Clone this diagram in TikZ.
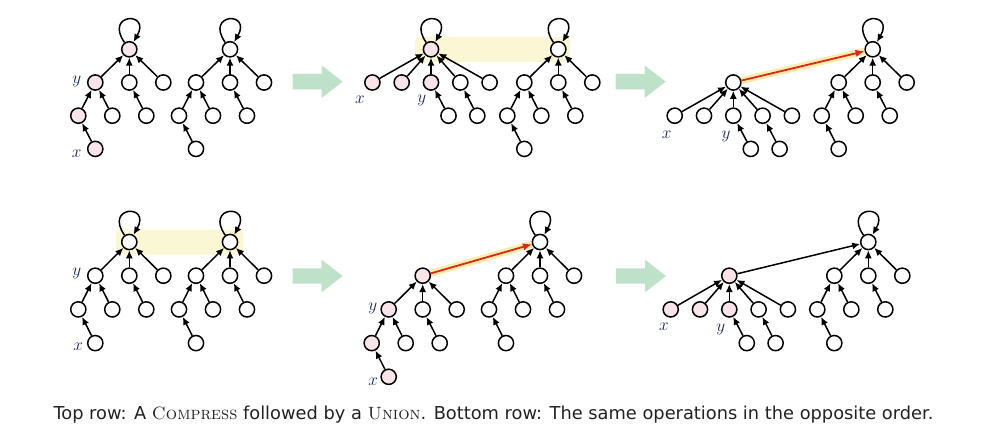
\documentclass[tikz,border=0pt]{standalone}
\usepackage{fontspec}
\newfontfamily\capfont{DejaVu Sans}
\usetikzlibrary{arrows.meta,backgrounds}
\definecolor{pinkfill}{RGB}{249,228,233}
\definecolor{hlyellow}{RGB}{251,246,212}
\definecolor{glowyellow}{RGB}{250,237,168}
\definecolor{redarr}{RGB}{218,40,32}
\definecolor{greenarr}{RGB}{190,226,201}
\definecolor{lblblue}{RGB}{22,40,95}
\definecolor{captext}{RGB}{34,34,34}
\tikzset{
  vtx/.style={circle,draw=black,line width=1.5pt,minimum size=15.2pt,inner sep=0pt,fill=white},
  pk/.style={vtx,fill=pinkfill},
  arr/.style={-{Latex[length=8pt,width=7pt]},line width=1.5pt},
  redarrow/.style={-{Latex[length=9pt,width=7.5pt]},line width=1.8pt,draw=redarr},
  glow/.style={line width=7pt,draw=glowyellow},
  lbl/.style={text=lblblue,font=\fontsize{18}{18}\selectfont,anchor=base,inner sep=0pt},
  hlbox/.style={fill=hlyellow,rounded corners=3pt},
  bigarrow/.style={fill=greenarr}
}
\newcommand\myloop[1]{\draw[arr] (#1) to[out=125,in=60,min distance=36pt] (#1);}
% uncompressed tree: prefix, root x, root y, root style, c1 style, g1/h style
\newcommand\ufTree[6]{%
  \node[#4] (#1r) at (#2,#3) {};
  \node[#5] (#1c1) at ({#2-34},{#3+\dy}) {};
  \node[vtx] (#1c2) at (#2,{#3+\dy}) {};
  \node[vtx] (#1c3) at ({#2+34},{#3+\dy}) {};
  \node[#6] (#1g1) at ({#2-51},{#3+2*\dy}) {};
  \node[vtx] (#1g2) at ({#2-17},{#3+2*\dy}) {};
  \node[vtx] (#1g3) at ({#2+17},{#3+2*\dy}) {};
  \node[#6] (#1h) at ({#2-34},{#3+3*\dy}) {};
  \draw[arr] (#1c1) -- (#1r);
  \draw[arr] (#1c2) -- (#1r);
  \draw[arr] (#1c3) -- (#1r);
  \draw[arr] (#1g1) -- (#1c1);
  \draw[arr] (#1g2) -- (#1c1);
  \draw[arr] (#1g3) -- (#1c2);
  \draw[arr] (#1h) -- (#1g1);
}
% compressed tree: prefix, root x, root y, style of root and first three children
\newcommand\cTree[4]{%
  \node[#4] (#1r) at (#2,#3) {};
  \node[#4] (#1c1) at ({#2-58.6},{#3+\dy}) {};
  \node[#4] (#1c2) at ({#2-29.3},{#3+\dy}) {};
  \node[#4] (#1c3) at (#2,{#3+\dy}) {};
  \node[vtx] (#1c4) at ({#2+29.3},{#3+\dy}) {};
  \node[vtx] (#1c5) at ({#2+58.6},{#3+\dy}) {};
  \node[vtx] (#1g1) at ({#2+17.5},{#3+2*\dy}) {};
  \node[vtx] (#1g2) at ({#2+46.3},{#3+2*\dy}) {};
  \draw[arr] (#1c1) -- (#1r);
  \draw[arr] (#1c2) -- (#1r);
  \draw[arr] (#1c3) -- (#1r);
  \draw[arr] (#1c4) -- (#1r);
  \draw[arr] (#1c5) -- (#1r);
  \draw[arr] (#1g1) -- (#1c3);
  \draw[arr] (#1g2) -- (#1c4);
}
\newcommand\greenarrow[2]{%
  \fill[bigarrow] (#1,{#2-7.7}) -- ({#1+29},{#2-7.7}) -- ({#1+29},{#2-16.2}) -- ({#1+50},#2)
    -- ({#1+29},{#2+16.2}) -- ({#1+29},{#2+7.7}) -- (#1,{#2+7.7}) -- cycle;
}
\begin{document}
\begin{tikzpicture}[x=1pt,y=-1pt]
\useasboundingbox (0,0) rectangle (983,428);
% ---------- top row ----------
\def\dy{33.2}
\ufTree{pa}{129.3}{49.3}{pk}{pk}{pk}
\ufTree{pb}{230}{49.3}{vtx}{vtx}{vtx}
\myloop{par}\myloop{pbr}
\node[lbl] (pay) at (76.7,83.5) {$y$};
\node[lbl] (pax) at (76.7,157.3) {$x$};
\greenarrow{292.7}{81.7}
\cTree{qa}{431}{49.3}{pk}
\ufTree{qb}{558.3}{49.3}{vtx}{vtx}{vtx}
\myloop{qar}\myloop{qbr}
\node[lbl] (qax) at (360,103.3) {$x$};
\node[lbl] (qay) at (421.7,102.8) {$y$};
\greenarrow{615.7}{81.7}
\cTree{sa}{733.3}{82.5}{vtx}
\ufTree{sb}{872.7}{49.3}{vtx}{vtx}{vtx}
\myloop{sbr}
\node[lbl] (sax) at (666.7,138.3) {$x$};
\node[lbl] (say) at (726,138) {$y$};
\draw[redarrow] (sar) -- (sbr);
% ---------- bottom row ----------
\def\dy{33.7}
\ufTree{ta}{129.3}{242}{vtx}{vtx}{vtx}
\ufTree{tb}{230}{242}{vtx}{vtx}{vtx}
\myloop{tar}\myloop{tbr}
\node[lbl] (tay) at (76.7,275.8) {$y$};
\node[lbl] (tax) at (78.3,350.7) {$x$};
\greenarrow{292.7}{276}
\ufTree{ua}{422.7}{275.7}{pk}{pk}{pk}
\ufTree{ub}{540}{242}{vtx}{vtx}{vtx}
\myloop{ubr}
\node[lbl] (uay) at (372.7,310.7) {$y$};
\node[lbl] (uax) at (373.3,385.7) {$x$};
\draw[redarrow] (uar) -- (ubr);
\greenarrow{616}{276}
\cTree{va}{729.3}{275.7}{pk}
\ufTree{vb}{868.3}{242}{vtx}{vtx}{vtx}
\myloop{vbr}
\node[lbl] (vax) at (664,330.7) {$x$};
\node[lbl] (vay) at (720.7,331) {$y$};
\draw[arr] (var) -- (vbr);
% ---------- background highlights ----------
\begin{pgfonlayer}{background}
  \fill[hlbox] (415,37) rectangle (570,62);
  \fill[hlbox] (116,229.5) rectangle (243,254.5);
  \draw[glow] (sar) -- (sbr);
  \draw[glow] (uar) -- (ubr);
\end{pgfonlayer}
% ---------- caption ----------
\node[anchor=base west,inner sep=0pt,text=captext,font=\capfont\fontsize{17.8}{18}\selectfont] (cap) at (53.3,419.3)
  {Top row: A {\rmfamily\textsc{Compress}} followed by a {\rmfamily\textsc{Union}}. Bottom row: The same operations in the opposite order.};
\end{tikzpicture}
\end{document}
